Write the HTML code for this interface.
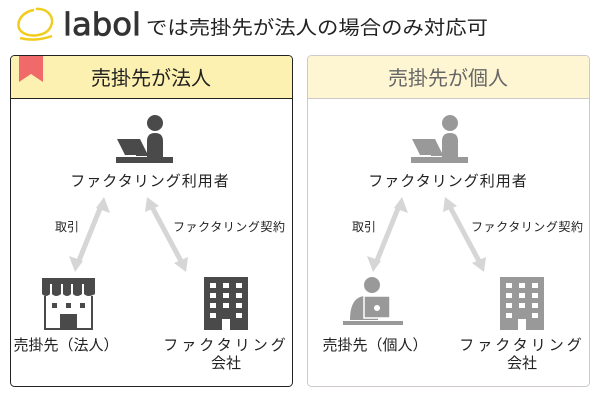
<!DOCTYPE html>
<html><head><meta charset="utf-8"><style>
html,body{margin:0;padding:0;background:#fff;width:600px;height:400px;overflow:hidden}
svg text{font-family:"Liberation Sans","Noto Sans CJK JP",sans-serif}
</style></head><body>
<svg width="600" height="400" viewBox="0 0 600 400" xmlns="http://www.w3.org/2000/svg">
<defs>
<g id="user">
 <circle cx="39" cy="18" r="8"/>
 <path d="M31 36 Q31 28 39 28 Q47 28 47 36 V52 H31Z"/>
 <path d="M1 34 H24 L32 50 H9Z"/>
 <rect x="20" y="48" width="24" height="3"/>
 <rect x="0" y="52" width="57" height="6"/>
</g>
<g id="bldg">
 <path d="M0 0 H44 V53 H26 V42 H18 V53 H0Z M6 6 V11 H12 V6Z M19 6 V11 H25 V6Z M32 6 V11 H38 V6Z M6 16 V21 H12 V16Z M19 16 V21 H25 V16Z M32 16 V21 H38 V16Z M6 26 V31 H12 V26Z M19 26 V31 H25 V26Z M32 26 V31 H38 V26Z M6 36 V41 H12 V36Z M32 36 V41 H38 V36Z" fill-rule="evenodd"/>
</g>
<g id="arrows">
 <line x1="101" y1="206" x2="78" y2="263" stroke="#d6d6d6" stroke-width="5"/>
 <polygon points="104,197 110,213 96,208" fill="#d6d6d6"/>
 <polygon points="75,272 69,256 83,261" fill="#d6d6d6"/>
 <line x1="151" y1="205" x2="182" y2="263" stroke="#d6d6d6" stroke-width="5"/>
 <polygon points="147,197 159,206 145,212" fill="#d6d6d6"/>
 <polygon points="186,272 174,263 188,257" fill="#d6d6d6"/>
</g>
</defs>
<!-- title -->
<path d="M36 9 C48 8 56 18 50 28 C45 36 30 38 22 32 C14 26 20 12 34 10" fill="none" stroke="#f2cc1d" stroke-width="2.5"/>
<path d="M20 38 Q35 42 52 36" fill="none" stroke="#f2cc1d" stroke-width="2.5"/>
<text x="63" y="35" font-size="31" fill="#333" stroke="#333" stroke-width="0.8" style="font-family:'DejaVu Sans',sans-serif" textLength="78" lengthAdjust="spacingAndGlyphs">labol</text>
<text x="146" y="34" font-size="19" fill="#222" textLength="342" lengthAdjust="spacingAndGlyphs">では売掛先が法人の場合のみ対応可</text>
<!-- left panel -->
<rect x="10.5" y="55.5" width="282" height="331" rx="4" fill="#fff" stroke="#222"/>
<path d="M11 98 V60 Q11 56 15 56 H288 Q292 56 292 60 V98Z" fill="#fdf1b1"/>
<line x1="10.5" y1="98.5" x2="292.5" y2="98.5" stroke="#222"/>
<polygon points="19,56 43,56 43,82 31,74 19,82" fill="#ef6a69"/>
<text x="151" y="85" font-size="20" fill="#222" text-anchor="middle">売掛先が法人</text>
<use href="#user" x="116" y="105" fill="#4a4a4a"/>
<text x="150" y="186" font-size="15" fill="#222" text-anchor="middle" letter-spacing="1">ファクタリング利用者</text>
<use href="#arrows"/>
<text x="55" y="231" font-size="12" fill="#222">取引</text>
<text x="173" y="231" font-size="12" fill="#222" textLength="112">ファクタリング契約</text>
<g fill="#4a4a4a">
 <rect x="42" y="278" width="53" height="6"/>
 <path d="M42 284 V294 Q46 298 50 294 V284Z M52 284 V294 Q56 298 61 294 V284Z M63 284 V294 Q67 298 71 294 V284Z M73 284 V294 Q77 298 82 294 V284Z M84 284 V294 Q88 298 95 294 V284Z" />
 <path d="M44 296 H46 V328 H60 V314 H77 V328 H91 V296 H93 V330 H44Z"/>
 <rect x="52" y="303" width="5" height="5"/><rect x="66" y="303" width="5" height="5"/><rect x="80" y="303" width="5" height="5"/>
</g>
<use href="#bldg" x="204" y="277" fill="#4a4a4a"/>
<text x="66" y="350" font-size="15" fill="#222" text-anchor="middle">売掛先（法人）</text>
<text x="226" y="350" font-size="15" fill="#222" text-anchor="middle" letter-spacing="3">ファクタリング</text>
<text x="226" y="368" font-size="15" fill="#222" text-anchor="middle">会社</text>
<!-- right panel -->
<rect x="307.5" y="55.5" width="282" height="331" rx="4" fill="#fff" stroke="#cfc8c8"/>
<path d="M308 98 V60 Q308 56 312 56 H585 Q589 56 589 60 V98Z" fill="#fef6d2"/>
<line x1="307.5" y1="98.5" x2="589.5" y2="98.5" stroke="#cfc8c8"/>
<text x="448" y="85" font-size="20" fill="#666" text-anchor="middle">売掛先が個人</text>
<use href="#user" x="411" y="105" fill="#999"/>
<text x="448" y="186" font-size="15" fill="#222" text-anchor="middle" letter-spacing="1">ファクタリング利用者</text>
<use href="#arrows" x="298" y="0"/>
<text x="352" y="231" font-size="12" fill="#222">取引</text>
<text x="471" y="231" font-size="12" fill="#222" textLength="112">ファクタリング契約</text>
<g fill="#999">
 <circle cx="372" cy="285" r="8"/>
 <path d="M350 320 Q350 296 366 296 H378 V320Z"/>
 <rect x="364" y="296" width="26" height="22" fill="#999" stroke="#fff" stroke-width="1.5"/>
 <rect x="343" y="321" width="60" height="4"/>
</g>
<circle cx="377" cy="308" r="3" fill="#fff"/>
<use href="#bldg" x="500" y="277" fill="#999"/>
<text x="375" y="350" font-size="15" fill="#222" text-anchor="middle">売掛先（個人）</text>
<text x="522" y="350" font-size="15" fill="#222" text-anchor="middle" letter-spacing="3">ファクタリング</text>
<text x="522" y="368" font-size="15" fill="#222" text-anchor="middle">会社</text>
</svg>
</body></html>
